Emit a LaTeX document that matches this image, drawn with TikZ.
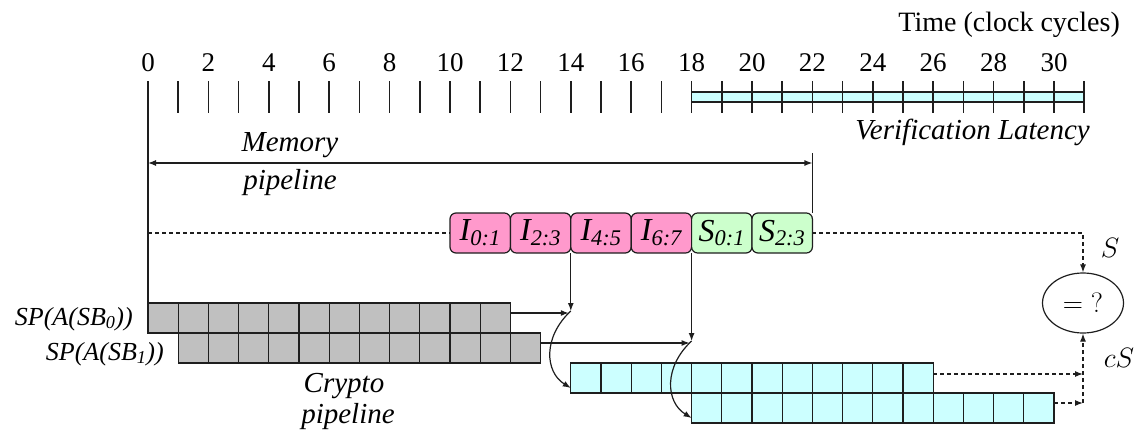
\documentclass[tikz,border=0pt]{standalone}
\usepackage{fix-cm}
\usepackage[no-math]{fontspec}
\setmainfont{Liberation Serif}
\usetikzlibrary{arrows.meta,shapes.geometric,calc}
\definecolor{memI}{RGB}{255,153,204}
\definecolor{memS}{RGB}{204,255,204}
\definecolor{cry}{RGB}{204,255,255}
\definecolor{sbox}{RGB}{192,192,192}
\definecolor{ink}{RGB}{30,30,30}
\def\cyc{30.2}
\begin{document}
\begin{tikzpicture}[x=1pt,y=-1pt,
  line/.style={line width=1.2pt, draw=ink},
  tick/.style={line width=1.5pt, draw=ink},
  tip/.tip={Latex[length=8pt,width=6pt]},
  arr/.style={line, -tip},
  dline/.style={line, dash pattern=on 4pt off 3pt},
  darr/.style={dline, -tip},
  cell/.style={line, minimum width=30.2pt, minimum height=30pt, inner sep=0pt, outer sep=0pt, anchor=north west},
  mem/.style={line, rounded corners=6pt, minimum width=60.4pt, minimum height=40pt, inner sep=0pt, outer sep=0pt, anchor=west,
    font=\fontsize{32}{34}\selectfont\itshape},
  num/.style={font=\fontsize{27}{30}\selectfont, inner sep=0pt, anchor=base},
  lab/.style={font=\fontsize{29}{32}\selectfont\itshape, inner sep=0pt},
  splab/.style={font=\fontsize{26}{28}\selectfont\itshape, inner sep=0pt, anchor=base east},
  mlab/.style={font=\fontsize{28}{30}\selectfont, inner sep=0pt, anchor=base}]
\useasboundingbox (0,0) rectangle (1145,431);

% time axis
\node[num, anchor=base east, font=\fontsize{28}{30}\selectfont] (taxis) at (1120,31) {Time (clock cycles)};
\node[line, fill=cry, minimum width={13*\cyc pt}, minimum height=10pt, inner sep=0pt, outer sep=0pt, anchor=north west]
  (vbar) at ({148+18*\cyc},92) {};
\foreach \t in {1,...,31}
  \draw[tick] ({148+\t*\cyc},81) -- ({148+\t*\cyc},113);
\foreach \t in {0,2,...,30}
  \node[num] (n\t) at ({148+\t*\cyc},71) {\t};
\node[lab, anchor=base east] (vlat) at (1090,139) {Verification Latency};

% memory pipeline
\node[mem, fill=memI] (m1) at ({148+10*\cyc},233) {I\textsubscript{0:1}};
\node[mem, fill=memI] (m2) at ({148+12*\cyc},233) {I\textsubscript{2:3}};
\node[mem, fill=memI] (m3) at ({148+14*\cyc},233) {I\textsubscript{4:5}};
\node[mem, fill=memI] (m4) at ({148+16*\cyc},233) {I\textsubscript{6:7}};
\node[mem, fill=memS] (m5) at ({148+18*\cyc},233) {S\textsubscript{0:1}};
\node[mem, fill=memS] (m6) at ({148+20*\cyc},233) {S\textsubscript{2:3}};

\coordinate (ms) at (148,163);
\coordinate (me) at ({148+22*\cyc},163);
\draw[line, tip-tip] (ms) -- (me);
\draw[line] ({148+22*\cyc},153) -- (m6.north east);
\node[lab, anchor=base] (memlab) at (290,151) {Memory};
\node[lab, anchor=base] (memlab2) at (290,189) {pipeline};

% crypto pipeline: S-box rows
\foreach \i in {0,...,11}
  \node[cell, fill=sbox] (ga\i) at ({148+\i*\cyc},303) {};
\foreach \i in {0,...,11}
  \node[cell, fill=sbox] (gb\i) at ({148+(\i+1)*\cyc},333) {};
\foreach \i in {0,...,11}
  \node[cell, fill=cry] (ca\i) at ({148+(\i+14)*\cyc},363) {};
\foreach \i in {0,...,11}
  \node[cell, fill=cry] (cb\i) at ({148+(\i+18)*\cyc},393) {};

\node[splab] (sp0) at (133,325) {SP(A(SB\textsubscript{0}))};
\node[splab] (sp1) at (164,360) {SP(A(SB\textsubscript{1}))};
\node[lab, anchor=base] (crlab) at (344,392) {Crypto};
\node[lab, anchor=base] (crlab2) at (348,423) {pipeline};

% start marker and memory request line
\draw[line] (148,81) -- (ga0.north west);
\draw[dline] (m1.west -| ga0.north west) -- (m1.west);

% hand-over of index and S-box data
\coordinate (j1) at ({148+14*\cyc},311);
\coordinate (j2) at ({148+18*\cyc},341);
\draw[arr] (m2.south east) -- (j1);
\draw[arr] ($(ga11.north east)+(0,10)$) -- ($(ga11.north east -| j1)+(-2,10)$);
\draw[arr] (j1) .. controls +(-28,26) and +(-26,-16) .. ($(ca0.south west)+(0,-5)$);
\draw[arr] (m4.south east) -- (j2);
\draw[arr] ($(gb11.north east)+(0,10)$) -- ($(gb11.north east -| j2)+(-2,10)$);
\draw[arr] (j2) .. controls +(-28,26) and +(-26,-16) .. ($(cb0.south west)+(0,-5)$);

% comparison
\node[line, ellipse, minimum width=81pt, minimum height=60pt, inner sep=0pt] (eq) at (1083,303)
  {\fontsize{28}{30}\selectfont$=\mathord{?}$};
\coordinate (ra) at (1083,374);
\coordinate (rb) at (1083,403);
\draw[darr] (m6.east) -- (m6.east -| eq.north) -- (eq.north);
\draw[darr] ($(ca11.east)+(0,-4)$) -- (ra);
\draw[darr] ($(cb11.east)+(0,-5)$) -- (rb);
\draw[darr] (rb) -- (eq.south);
\node[mlab] (slab) at (1110,257) {$S$};
\node[mlab] (cslab) at (1119,367) {$cS$};
\end{tikzpicture}
\end{document}
